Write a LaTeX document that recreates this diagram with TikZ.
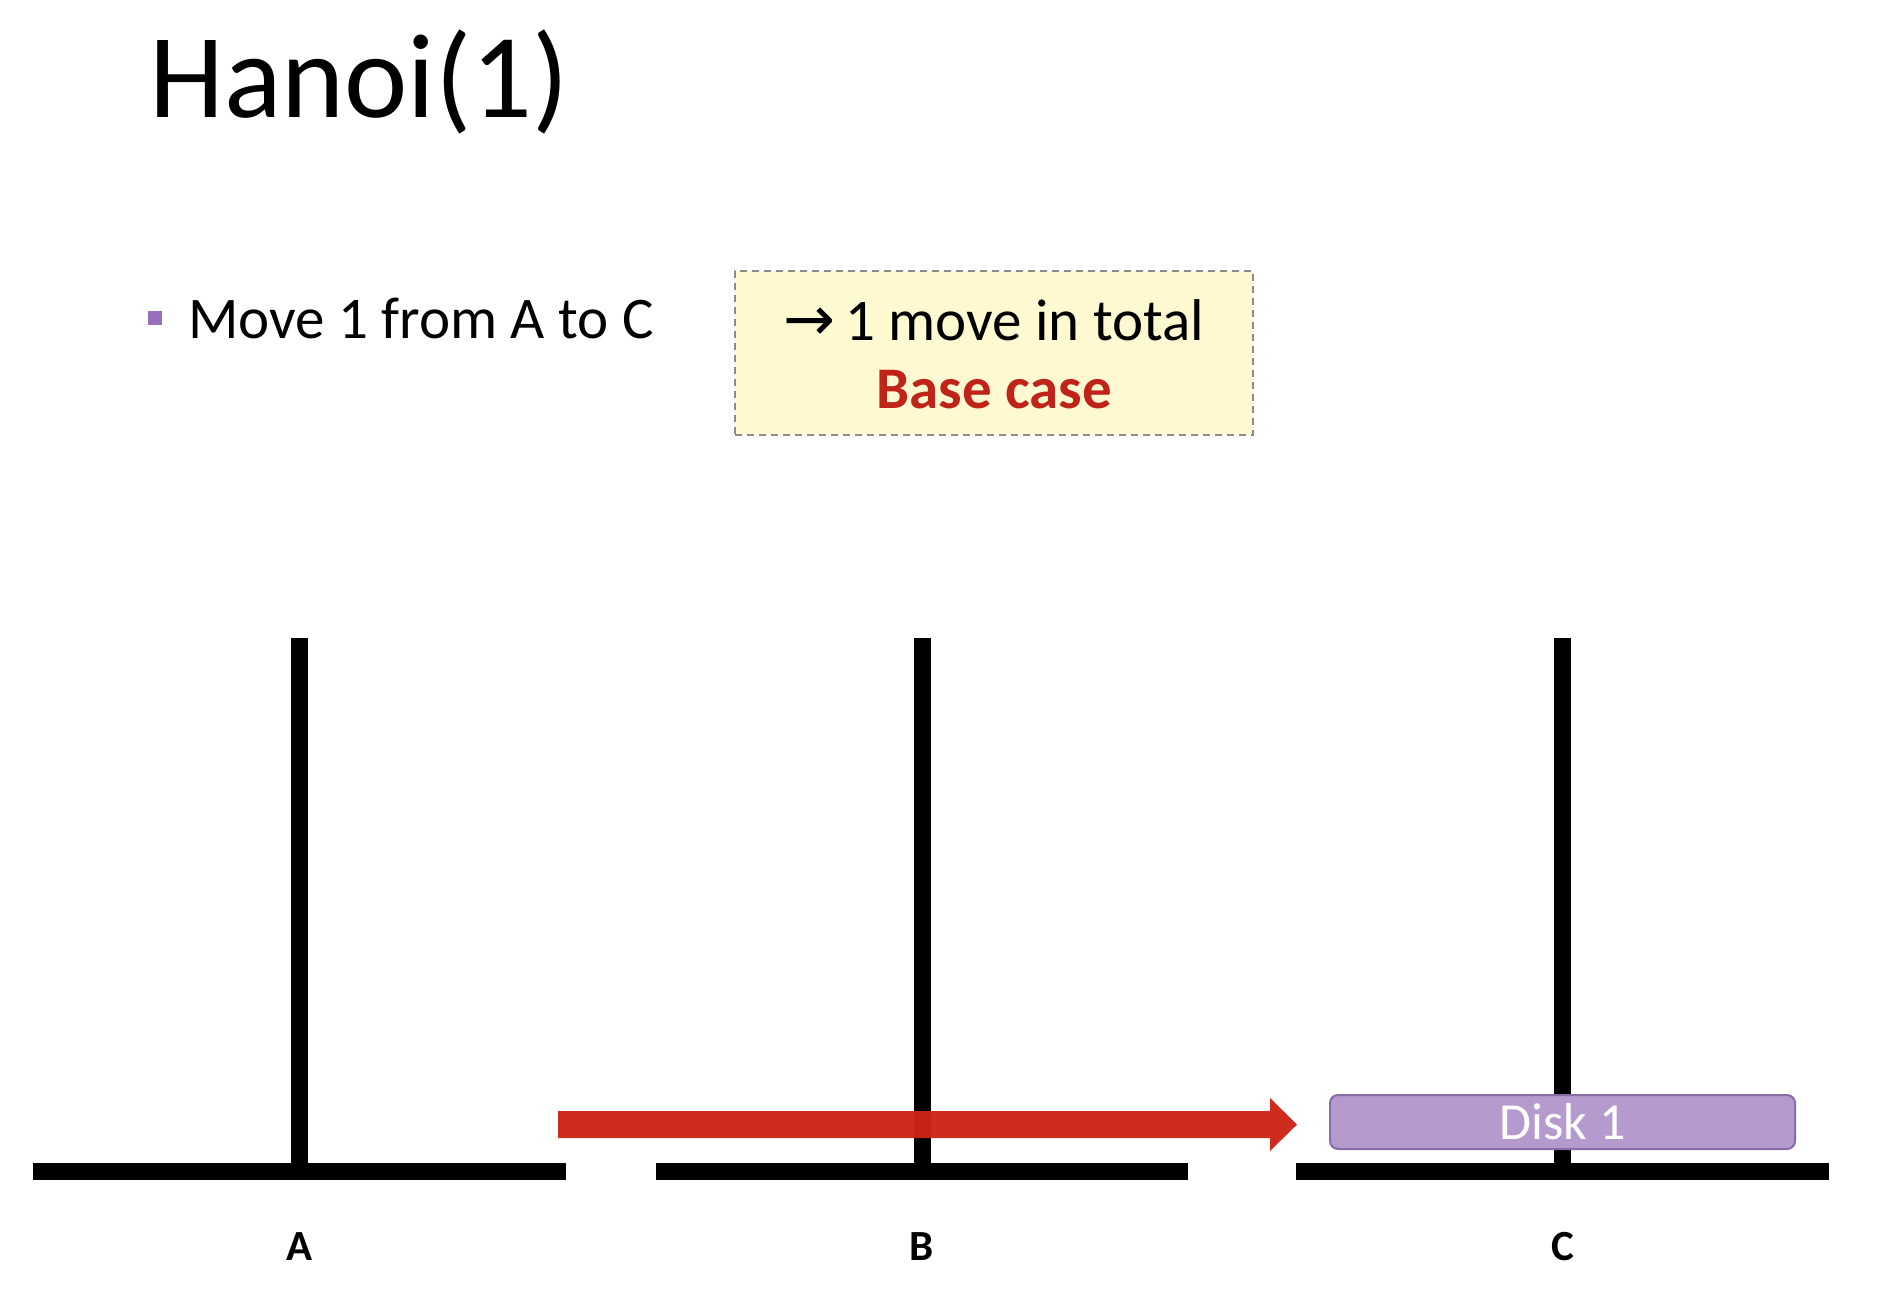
\documentclass[tikz,border=0pt]{standalone}
\usepackage{fontspec}
\setmainfont{Carlito}
\newfontfamily\arrowfont{DejaVu Sans}
\definecolor{arrowred}{RGB}{204,38,22}
\definecolor{basered}{RGB}{192,36,24}
\definecolor{diskfill}{RGB}{180,154,205}
\definecolor{diskedge}{RGB}{135,108,165}
\definecolor{bulletpurple}{RGB}{150,112,186}
\definecolor{notefill}{RGB}{255,249,210}
\definecolor{noteedge}{RGB}{140,140,140}
\begin{document}
\begin{tikzpicture}[x=0.5pt,y=-0.5pt,
  pole/.style={line width=8.5pt},
  basebar/.style={line width=8.5pt},
  peglabel/.style={anchor=base, inner sep=0pt, font=\fontsize{21.5pt}{26pt}\selectfont\bfseries},
  disk/.style={draw=diskedge, fill=diskfill, line width=1pt, rounded corners=4pt,
    minimum width=232.5pt, minimum height=27pt, inner sep=0pt, text=white,
    font=\fontsize{26pt}{30pt}\selectfont},
  notebox/.style={draw=noteedge, fill=notefill, line width=1pt, dash pattern=on 3.5pt off 2.5pt,
    minimum width=259pt, minimum height=82pt, inner sep=0pt},
  bodytext/.style={inner sep=0pt, font=\fontsize{29.5pt}{36pt}\selectfont}
]
\useasboundingbox (0,0) rectangle (1882,1290);

% title
\node[anchor=base west, inner sep=0pt, font=\fontsize{60pt}{72pt}\selectfont] (title) at (149,117) {Hanoi(1)};

% bullet line
\node[fill=bulletpurple, minimum size=7pt, inner sep=0pt] (bullet) at (155,318) {};
\node[bodytext, anchor=base west] (move) at (188,338) {Move 1 from A to C};

% note box
\node[notebox] (note) at (994,353) {};
\node[bodytext, anchor=base] (total) at (994,340) {{\arrowfont\fontsize{31pt}{36pt}\selectfont →}\,1 move in total};
\node[bodytext, anchor=base, text=basered, font=\fontsize{29.5pt}{36pt}\selectfont\bfseries] (basecase) at (994,408) {Base case};

% pegs
\coordinate (Atop) at (299.5,638);  \coordinate (Abot) at (299.5,1171.5);
\coordinate (Btop) at (922,638);    \coordinate (Bbot) at (922,1171.5);
\coordinate (Ctop) at (1562.5,638); \coordinate (Cbot) at (1562.5,1171.5);
\coordinate (Al) at (33,1171.5);   \coordinate (Ar) at (566,1171.5);
\coordinate (Bl) at (656,1171.5);  \coordinate (Br) at (1188,1171.5);
\coordinate (Cl) at (1296,1171.5); \coordinate (Cr) at (1829,1171.5);

\draw[pole] (Atop) -- (Abot);
\draw[pole] (Btop) -- (Bbot);
\draw[pole] (Ctop) -- (Cbot);
\draw[basebar] (Al) -- (Ar);
\draw[basebar] (Bl) -- (Br);
\draw[basebar] (Cl) -- (Cr);

\node[peglabel] (labA) at (299.5,1260) {A};
\node[peglabel] (labB) at (922,1260) {B};
\node[peglabel] (labC) at (1562.5,1260) {C};

% disk
\node[disk] (disk) at (1562.5,1122) {Disk 1};

% move arrow
\coordinate (arrs) at (558,1124.5);
\coordinate (arre) at (1297,1124.5);
\fill[arrowred, opacity=0.97] (arrs) ++(0,-13.5) -- ++(712,0) -- ++(0,-13) -- (arre)
  -- ++(-27,26.5) -- ++(0,-13) -- ++(-712,0) -- cycle;
\end{tikzpicture}
\end{document}
